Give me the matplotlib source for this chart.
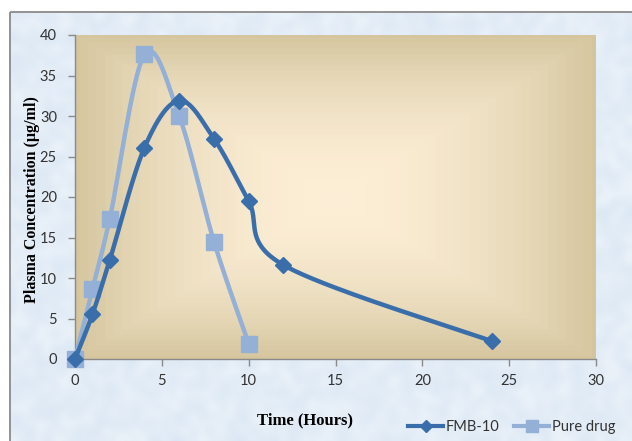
import numpy as np
import matplotlib
matplotlib.use("Agg")
import matplotlib.pyplot as plt
from matplotlib.lines import Line2D
from matplotlib.patches import Rectangle

# Plasma concentration profiles
time_fmb = [0, 1, 2, 4, 6, 8, 10, 12, 24]
conc_fmb = [0, 5.5, 12.2, 26.1, 31.9, 27.2, 19.5, 11.6, 2.2]
time_pure = [0, 1, 2, 4, 6, 8, 10]
conc_pure = [0, 8.6, 17.3, 37.6, 30.0, 14.5, 1.9]

x_ticks = [0, 5, 10, 15, 20, 25, 30]
y_ticks = [0, 5, 10, 15, 20, 25, 30, 35, 40]

W, H = 632, 441
fig = plt.figure(figsize=(W / 100, H / 100), dpi=100)
fig.patch.set_facecolor("white")

# textured light-blue chart background inside a grey frame
bg = fig.add_axes([0, 0, 1, 1], zorder=0)
bg.set_axis_off()
rng = np.random.default_rng(7)
noise = rng.random((60, 86))
base = np.array([0.855, 0.905, 0.955])
light = np.array([0.945, 0.965, 0.985])
tex = base + (light - base) * noise[..., None] * 0.8
bg.imshow(tex, extent=[0, W, 0, H], aspect="auto", interpolation="bicubic", zorder=0)
bg.set_xlim(0, W)
bg.set_ylim(H, 0)
bg.add_patch(Rectangle((0, 0), W, 11, color="white", zorder=1))
bg.add_patch(Rectangle((0, 0), 9, H, color="white", zorder=1))
bg.add_patch(Rectangle((9.5, 11.5), W + 10, H + 10, fill=False, ec="#8a8a8a", lw=1.3, zorder=2))

# plot area
x0, x1 = 75, 596
yt, yb = 35, 359
ax = fig.add_axes([x0 / W, 1 - yb / H, (x1 - x0) / W, (yb - yt) / H], zorder=1)
ax.set_xlim(0, 30)
ax.set_ylim(0, 40)

# rectangular gradient fill, light in the middle, tan at the edges
ny, nx = 240, 360
gx = np.abs(np.linspace(-1, 1, nx))[None, :]
gy = np.abs(np.linspace(-1, 1, ny))[:, None]
d = np.maximum(gx, gy)
d = np.round(d * 30) / 30
edge = np.array([0.835, 0.775, 0.625])
center = np.array([0.992, 0.937, 0.84])
grad = center + (edge - center) * (d[..., None] ** 1.8)
ax.imshow(grad, extent=[0, 30, 0, 40], aspect="auto", zorder=0, interpolation="bilinear")


def smooth(xs, ys, n=40):
    # Catmull-Rom spline evaluated in plot-area pixel space
    sx, sy = (x1 - x0) / 30.0, (yb - yt) / 40.0
    P = np.column_stack([np.array(xs) * sx, np.array(ys) * sy])
    Pe = np.vstack([P[0], P, P[-1]])
    out = []
    for i in range(1, len(Pe) - 2):
        p0, p1, p2, p3 = Pe[i - 1], Pe[i], Pe[i + 1], Pe[i + 2]
        c1 = p1 + (p2 - p0) / 6.0
        c2 = p2 - (p3 - p1) / 6.0
        t = np.linspace(0, 1, n)[:, None]
        seg = ((1 - t) ** 3) * p1 + 3 * ((1 - t) ** 2) * t * c1 + 3 * (1 - t) * t ** 2 * c2 + t ** 3 * p2
        out.append(seg if i == 1 else seg[1:])
    out = np.vstack(out)
    return out[:, 0] / sx, out[:, 1] / sy


dark = "#3a6eab"
lightc = "#94b0d6"

px, py = smooth(time_pure, conc_pure)
ax.plot(px, py, color=lightc, lw=3.2, zorder=3, solid_capstyle="round", clip_on=False)
ax.plot(time_pure, conc_pure, ls="none", marker="s", ms=11, mfc=lightc, mec=lightc, zorder=4, clip_on=False)

fx, fy = smooth(time_fmb, conc_fmb)
ax.plot(fx, fy, color=dark, lw=3.2, zorder=5, solid_capstyle="round", clip_on=False)
ax.plot(time_fmb, conc_fmb, ls="none", marker="D", ms=8.5, mfc=dark, mec=dark, zorder=6, clip_on=False)

ax.set_xticks(x_ticks)
ax.set_yticks(y_ticks)
tick_font = dict(family="Lato", size=10.5, color="#333333")
ax.set_xticklabels([str(v) for v in x_ticks], **tick_font)
ax.set_yticklabels([str(v) for v in y_ticks], **tick_font)
ax.tick_params(axis="both", direction="out", length=5, color="#8a8a8a", width=1)
ax.tick_params(axis="x", pad=6)
ax.tick_params(axis="y", pad=8)
for s in ["top", "right"]:
    ax.spines[s].set_visible(False)
for s in ["left", "bottom"]:
    ax.spines[s].set_color("#8a8a8a")
    ax.spines[s].set_linewidth(1)
    ax.spines[s].set_zorder(2)

fig.text(32 / W, 1 - 200 / H, "Plasma Concentration (µg/ml)", rotation=90, ha="center", va="center",
         family="Liberation Serif", weight="bold", size=11.5, color="black")
fig.text(305 / W, 1 - 420 / H, "Time (Hours)", ha="center", va="center",
         family="Liberation Serif", weight="bold", size=12, color="black")

handles = [Line2D([], [], color=dark, lw=3, marker="D", ms=6),
           Line2D([], [], color=lightc, lw=3, marker="s", ms=8)]
fig.legend(handles, ["FMB-10", "Pure drug"], loc="center", bbox_to_anchor=(512 / W, 1 - 427 / H),
           ncol=2, frameon=False, handlelength=2.4, handletextpad=0.2, columnspacing=1.0,
           prop=dict(family="Lato", size=10.5), labelcolor="#333333")

fig.savefig("out.png", dpi=100)
